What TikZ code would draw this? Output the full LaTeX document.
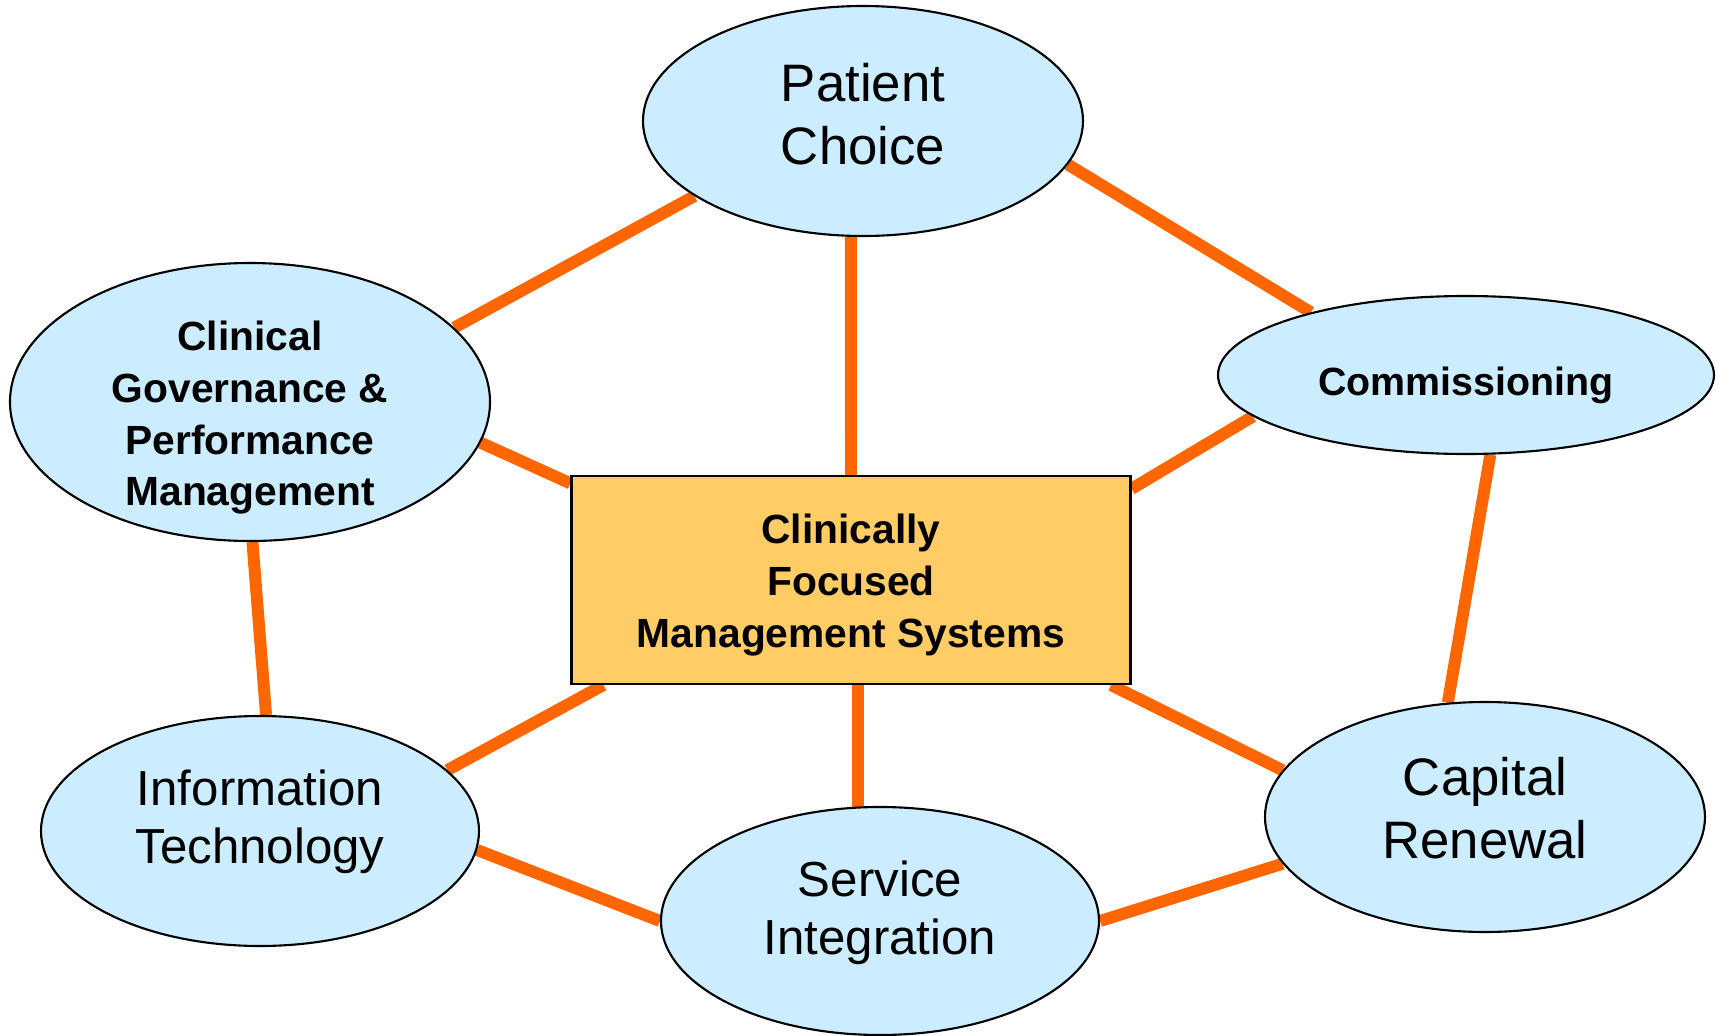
\documentclass[tikz,border=0pt]{standalone}
\usepackage{fontspec}
\setmainfont{Liberation Sans}
\usepackage{tikz}
\usepackage{xcolor}
\usetikzlibrary{shapes.geometric}
\usetikzlibrary{backgrounds}
\definecolor{topicblue}{HTML}{CCECFF}
\definecolor{hubgold}{HTML}{FFCC66}
\definecolor{linkorange}{HTML}{FF6600}

\begin{document}
\begin{tikzpicture}[
    topicnode/.style={shape=ellipse, fill=topicblue, draw=black, line width=0.6pt, inner sep=0pt},
    bigtext/.style={align=center, font=\fontsize{15}{18}\selectfont},
    midtext/.style={align=center, font=\fontsize{14}{16.4}\selectfont},
    boldtext/.style={align=center, font=\fontsize{11.6}{14.7}\selectfont\bfseries},
    hubnode/.style={shape=rectangle, fill=hubgold, draw=black, line width=0.6pt, minimum width=5.59cm, minimum height=2.08cm},
    linkline/.style={draw=linkorange, line width=3.4pt}
]
\useasboundingbox (0,0) rectangle (17.19,10.35);

% Shapes
\node[topicnode, minimum width=4.40cm, minimum height=2.30cm] (pc) at (8.63,9.14) {};
\node[topicnode, minimum width=4.80cm, minimum height=2.78cm] (cg) at (2.50,6.33) {};
\node[topicnode, minimum width=4.96cm, minimum height=1.58cm] (com) at (14.66,6.60) {};
\node[topicnode, minimum width=4.38cm, minimum height=2.30cm] (it) at (2.60,2.04) {};
\node[topicnode, minimum width=4.38cm, minimum height=2.28cm] (si) at (8.80,1.14) {};
\node[topicnode, minimum width=4.40cm, minimum height=2.30cm] (cr) at (14.85,2.18) {};
\node[hubnode] (box) at (8.51,4.55) {};

% Texts
\node[bigtext] (pctext) at ([yshift=0.07cm]pc.center) {Patient\\Choice};
\node[boldtext] (cgtext) at ([yshift=-0.16cm]cg.center) {Clinical\\Governance \&\\Performance\\Management};
\node[boldtext, font=\fontsize{11.2}{14}\selectfont\bfseries] (comtext) at ([yshift=-0.10cm]com.center) {Commissioning};
\node[midtext] (ittext) at ([yshift=0.09cm]it.center) {Information\\Technology};
\node[midtext] (sitext) at ([yshift=0.08cm]si.center) {Service\\Integration};
\node[bigtext] (crtext) at ([yshift=0.09cm]cr.center) {Capital\\Renewal};
\node[boldtext] (boxtext) at ([yshift=-0.05cm]box.center) {Clinically\\Focused\\Management Systems};

% Links
\begin{scope}[on background layer]
\draw[linkline] (pc.204) -- (cg.20);
\draw[linkline] (pc.264) -- (box.north);
\draw[linkline] (pc.-12) -- (com.158);
\draw[linkline] (cg.-10) -- (box.161);
\draw[linkline] (cg.-89) -- (it.87);
\draw[linkline] (com.191) -- (box.18);
\draw[linkline] (com.-73) -- (cr.108);
\draw[linkline] (box.203) -- (it.18);
\draw[linkline] (si.101 |- box.south) -- (si.101);
\draw[linkline] (box.-22) -- (cr.167);
\draw[linkline] (it.-5) -- (si.west);
\draw[linkline] (si.east) -- (cr.193);
\end{scope}

\end{tikzpicture}
\end{document}
